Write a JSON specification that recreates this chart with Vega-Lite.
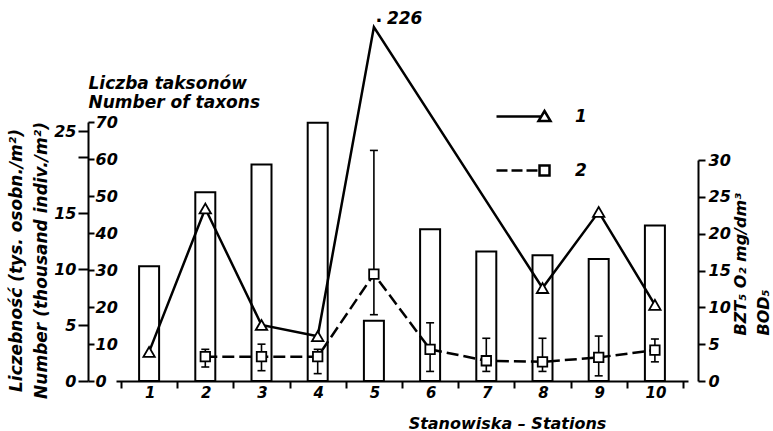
{
  "$schema": "https://vega.github.io/schema/vega-lite/v6.json",
  "width": 572,
  "height": 259,
  "autosize": {"type": "none"},
  "padding": {"left": 116, "top": 122, "right": 85, "bottom": 50},
  "background": "white",
  "config": {
    "font": "DejaVu Sans",
    "view": {"stroke": null},
    "axis": {
      "labelFont": "DejaVu Sans",
      "titleFont": "DejaVu Sans",
      "labelFontStyle": "italic",
      "titleFontStyle": "italic",
      "labelFontWeight": "bold",
      "titleFontWeight": "bold",
      "labelColor": "black",
      "titleColor": "black",
      "domainColor": "black",
      "tickColor": "black",
      "domainWidth": 2,
      "tickWidth": 2,
      "grid": false
    },
    "legend": {
      "padding": 0,
      "orient": "none",
      "title": null,
      "symbolSize": 2916,
      "symbolStrokeWidth": 2.5,
      "symbolStrokeColor": "black",
      "symbolFillColor": "white",
      "symbolOpacity": 1,
      "labelFont": "DejaVu Sans",
      "labelFontSize": 17,
      "labelFontStyle": "italic",
      "labelFontWeight": "bold",
      "labelColor": "black",
      "labelOffset": 23
    }
  },
  "data": {
    "values": [
      {"station": 1, "taxa": 31, "density": 2.6, "bod": null, "lo": null, "hi": null},
      {"station": 2, "taxa": 51, "density": 15.4, "bod": 3.3, "lo": 1.9, "hi": 4.3},
      {"station": 3, "taxa": 58.5, "density": 5.0, "bod": 3.3, "lo": 1.4, "hi": 5.0},
      {"station": 4, "taxa": 69.8, "density": 4.0, "bod": 3.3, "lo": 1.0, "hi": 4.3},
      {"station": 5, "taxa": 16.3, "density": 226, "bod": 14.5, "lo": 9.0, "hi": 31.3},
      {"station": 6, "taxa": 41, "density": null, "bod": 4.3, "lo": 1.3, "hi": 7.9},
      {"station": 7, "taxa": 35, "density": null, "bod": 2.75, "lo": 1.3, "hi": 5.8},
      {"station": 8, "taxa": 34, "density": 8.3, "bod": 2.6, "lo": 1.3, "hi": 5.8},
      {"station": 9, "taxa": 33, "density": 15.1, "bod": 3.2, "lo": 0.7, "hi": 6.1},
      {"station": 10, "taxa": 42, "density": 6.8, "bod": 4.2, "lo": 2.6, "hi": 5.7}
    ]
  },
  "encoding": {
    "x": {
      "field": "station",
      "type": "quantitative",
      "scale": {"domain": [0.5, 10.5], "nice": false, "zero": false},
      "axis": {
        "values": [0.5, 1.5, 2.5, 3.5, 4.5, 5.5, 6.5, 7.5, 8.5, 9.5, 10.5],
        "labelExpr": "datum.value < 10 ? format(datum.value + 0.5, 'd') : ''",
        "labelOffset": 28.6,
        "labelOverlap": false,
        "labelFlush": false,
        "labelBound": false,
        "tickSize": 7,
        "labelPadding": -3,
        "labelFontSize": 15,
        "title": "Stanowiska – Stations",
        "titleFontSize": 16,
        "titleX": 391,
        "titleY": 47,
        "titleAlign": "center",
        "titleBaseline": "alphabetic"
      }
    }
  },
  "layer": [
    {
      "mark": {"type": "bar", "orient": "vertical", "fill": "white", "stroke": "black", "strokeWidth": 2, "width": 20},
      "encoding": {
        "y": {
          "field": "taxa",
          "type": "quantitative",
          "scale": {"domain": [0, 70], "nice": false},
          "axis": {
            "orient": "right",
            "offset": -600,
            "values": [0, 10, 20, 30, 40, 50, 60, 70],
            "tickSize": 6,
            "labelPadding": 1,
            "labelFontSize": 16,
            "title": ["Liczba taksonów", "Number of taxons"],
            "titleAngle": 0,
            "titleAlign": "left",
            "titleBaseline": "top",
            "titleX": 0,
            "titleY": -47,
            "titleFontSize": 17,
            "titleLineHeight": 19
          }
        }
      }
    },
    {
      "transform": [{"filter": "isValid(datum.lo)"}],
      "mark": {"type": "rule", "stroke": "black", "strokeWidth": 1.6},
      "encoding": {
        "y": {"field": "lo", "type": "quantitative", "scale": {"domain": [0, 30], "range": [259, 38], "nice": false}, "axis": null},
        "y2": {"field": "hi"}
      }
    },
    {
      "transform": [{"filter": "isValid(datum.lo)"}],
      "mark": {"type": "tick", "orient": "horizontal", "size": 8, "thickness": 1.6, "color": "black", "opacity": 1},
      "encoding": {
        "y": {"field": "lo", "type": "quantitative", "scale": {"domain": [0, 30], "range": [259, 38], "nice": false}, "axis": null}
      }
    },
    {
      "transform": [{"filter": "isValid(datum.hi)"}],
      "mark": {"type": "tick", "orient": "horizontal", "size": 8, "thickness": 1.6, "color": "black", "opacity": 1},
      "encoding": {
        "y": {"field": "hi", "type": "quantitative", "scale": {"domain": [0, 30], "range": [259, 38], "nice": false}, "axis": null}
      }
    },
    {
      "transform": [{"filter": "isValid(datum.bod)"}],
      "mark": {"type": "line", "strokeWidth": 2.5, "strokeDash": [12, 5]},
      "encoding": {
        "y": {
          "field": "bod",
          "type": "quantitative",
          "scale": {"domain": [0, 30], "range": [259, 38], "nice": false},
          "axis": {
            "orient": "right",
            "offset": 10,
            "values": [0, 5, 10, 15, 20, 25, 30],
            "tickSize": 7,
            "labelPadding": 3,
            "labelFontSize": 16,
            "title": ["BZT₅ O₂ mg/dm³", "BOD₅"],
            "titleAngle": -90,
            "titleAlign": "left",
            "titleBaseline": "top",
            "titleX": 34,
            "titleY": 213,
            "titleFontSize": 16,
            "titleLineHeight": 23
          }
        },
        "stroke": {
          "datum": "2",
          "type": "nominal",
          "scale": {"domain": ["2"], "range": ["black"]},
          "legend": {
            "orient": "none",
            "legendX": 379,
            "legendY": 20,
            "symbolType": "M-1,0H-0.593M-0.444,0H-0.037M0.111,0H0.519M0.593,-0.185H0.963V0.185H0.593Z",
            "symbolSize": 2916,
            "symbolStrokeWidth": 2.5
          }
        }
      }
    },
    {
      "transform": [{"filter": "isValid(datum.density)"}],
      "mark": {"type": "line", "strokeWidth": 2.5},
      "encoding": {
        "y": {
          "field": "density",
          "type": "quantitative",
          "scale": {"domain": [0, 20, 25, 226], "range": [259, 35, 9, -95], "nice": false, "zero": false},
          "axis": {
            "orient": "left",
            "offset": 28,
            "domain": false,
            "values": [0, 5, 10, 15, 20, 25],
            "labelExpr": "datum.value == 20 ? '' : datum.label",
            "tickSize": 10,
            "labelPadding": 2,
            "labelFontSize": 16,
            "title": ["Liczebność (tys. osobn./m²)", "Number (thousand indiv./m²)"],
            "titleAngle": -90,
            "titleAlign": "center",
            "titleBaseline": "top",
            "titleX": -80,
            "titleY": 138,
            "titleFontSize": 17,
            "titleLineHeight": 25
          }
        },
        "stroke": {
          "datum": "1",
          "type": "nominal",
          "scale": {"domain": ["1"], "range": ["black"]},
          "legend": {
            "orient": "none",
            "legendX": 379,
            "legendY": -34,
            "symbolType": "M-1,0H0.656M0.778,-0.204L1,0.167L0.556,0.167Z",
            "symbolSize": 2916,
            "symbolStrokeWidth": 2.5
          }
        }
      }
    },
    {
      "transform": [{"filter": "isValid(datum.bod)"}],
      "mark": {"type": "point", "shape": "square", "filled": true, "fill": "white", "stroke": "black", "strokeWidth": 1.8, "size": 90, "opacity": 1},
      "encoding": {
        "y": {"field": "bod", "type": "quantitative", "scale": {"domain": [0, 30], "range": [259, 38], "nice": false}, "axis": null}
      }
    },
    {
      "transform": [{"filter": "isValid(datum.density) && datum.density < 100"}],
      "mark": {"type": "point", "shape": "triangle-up", "filled": true, "fill": "white", "stroke": "black", "strokeWidth": 1.8, "size": 130, "opacity": 1},
      "encoding": {
        "y": {"field": "density", "type": "quantitative", "scale": {"domain": [0, 20, 25, 226], "range": [259, 35, 9, -95], "nice": false, "zero": false}, "axis": null}
      }
    },
    {
      "transform": [{"filter": "isValid(datum.density) && datum.density > 100"}],
      "mark": {"type": "text", "align": "left", "baseline": "middle", "dx": 13, "dy": -8, "fontSize": 17, "fontStyle": "italic", "fontWeight": "bold", "color": "black"},
      "encoding": {
        "y": {"field": "density", "type": "quantitative", "scale": {"domain": [0, 20, 25, 226], "range": [259, 35, 9, -95], "nice": false, "zero": false}, "axis": null},
        "text": {"field": "density", "type": "quantitative"}
      }
    },
    {
      "transform": [{"filter": "isValid(datum.density) && datum.density > 100"}],
      "mark": {"type": "text", "align": "center", "baseline": "middle", "dx": 5, "dy": -5, "fontSize": 18, "fontWeight": "bold", "color": "black"},
      "encoding": {
        "y": {"field": "density", "type": "quantitative", "scale": {"domain": [0, 20, 25, 226], "range": [259, 35, 9, -95], "nice": false, "zero": false}, "axis": null},
        "text": {"value": "·"}
      }
    }
  ],
  "resolve": {"scale": {"y": "independent", "stroke": "independent"}, "legend": {"stroke": "independent"}}
}
